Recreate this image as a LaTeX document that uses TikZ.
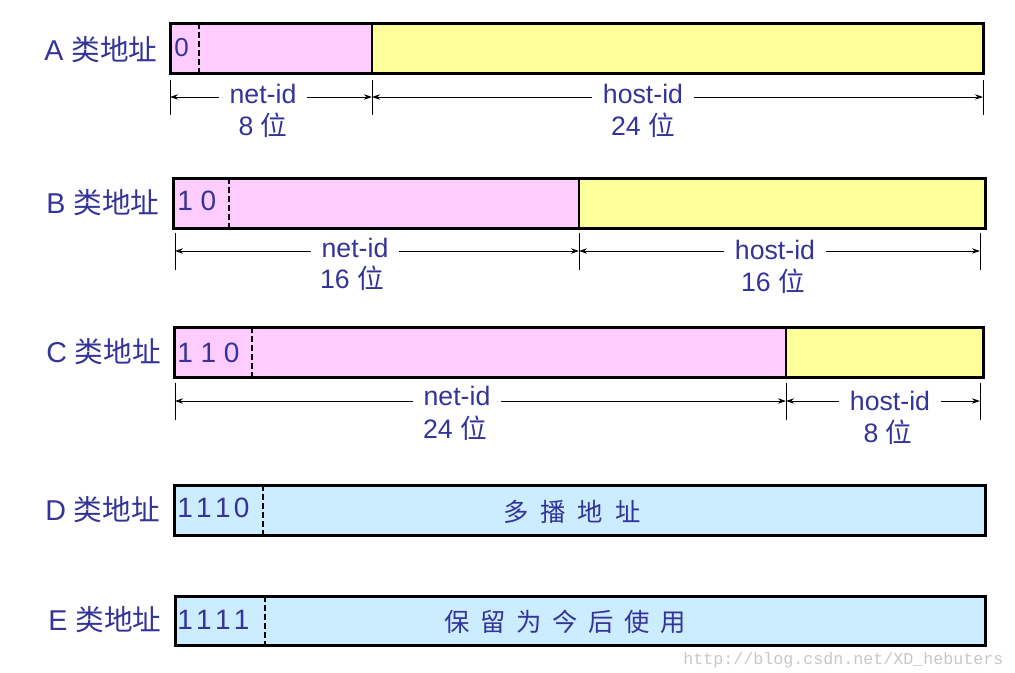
\documentclass[tikz,border=0pt]{standalone}
\usepackage{fontspec}
\setmainfont{Liberation Sans}
\newfontfamily\cjk{Noto Sans CJK SC}
\newfontfamily\wmfont{Liberation Mono}
\usetikzlibrary{arrows.meta}
\definecolor{txt}{HTML}{333399}
\definecolor{netpink}{HTML}{FFCCFF}
\definecolor{hostyellow}{HTML}{FFFF99}
\definecolor{multiblue}{HTML}{CCECFF}
\newcommand\cnwei{{\cjk 位}}
\begin{document}
\begin{tikzpicture}[x=0.75pt,y=-0.75pt,
  field/.style={draw=black, line width=2.25pt},
  divider/.style={draw=black, line width=1.6pt},
  bitsep/.style={draw=black, line width=1.7pt, dash pattern=on 4.5pt off 2.3pt},
  tickline/.style={draw=black, line width=0.7pt},
  dimarrow/.style={draw=black, line width=0.7pt, -{Stealth[length=6pt,width=4pt]}},
  dimtext/.style={text=txt, font=\fontsize{20}{24}\selectfont, inner xsep=8pt, inner ysep=0pt},
  rowlabel/.style={text=txt, font=\fontsize{21.5}{26}\selectfont, inner sep=0pt, anchor=base west},
  bits/.style={text=txt, font=\fontsize{21}{25}\selectfont, inner sep=0pt, anchor=base west},
  cntext/.style={text=txt, font=\cjk\fontsize{19}{23}\selectfont, inner sep=0pt, anchor=base},
  wm/.style={text=black!22, font=\wmfont\fontsize{12.5}{14}\selectfont, inner sep=0pt, anchor=base west}
]
\useasboundingbox (0,0) rectangle (1015,672);

% ---------- Row A ----------
\node[rowlabel] (labA) at (44,60) {A\kern6pt{\cjk 类地址}};
\fill[netpink] (170,23) rectangle (372,73);
\fill[hostyellow] (372,23) rectangle (983,73);
\draw[divider] (372,23) -- (372,73);
\draw[bitsep] (199,23) -- (199,73);
\draw[field] (170,23) rectangle (983,73);
\node[bits, font=\fontsize{19.5}{22}\selectfont] (bitsA) at (174,56) {0};
\coordinate (A0) at (170,97);
\coordinate (A1) at (372,97);
\coordinate (A2) at (983,97);
\draw[tickline] (170,80) -- (170,115);
\draw[tickline] (372,80) -- (372,115);
\draw[tickline] (983,80) -- (983,115);
\node[dimtext, anchor=base] (netA) at (263,103) {net-id};
\node[dimtext, anchor=base] (netAb) at (263,135) {8 \cnwei};
\node[dimtext, anchor=base] (hostA) at (643,103) {host-id};
\node[dimtext, anchor=base] (hostAb) at (643,135) {24 \cnwei};
\draw[dimarrow] (netA.west |- A0) -- (A0);
\draw[dimarrow] (netA.east |- A0) -- (A1);
\draw[dimarrow] (hostA.west |- A0) -- (A1);
\draw[dimarrow] (hostA.east |- A0) -- (A2);

% ---------- Row B ----------
\node[rowlabel] (labB) at (46,213) {B\kern6pt{\cjk 类地址}};
\fill[netpink] (173,178) rectangle (579,228);
\fill[hostyellow] (579,178) rectangle (985,228);
\draw[divider] (579,178) -- (579,228);
\draw[bitsep] (229,178) -- (229,228);
\draw[field] (173,178) rectangle (985,228);
\node[bits] (bitsB) at (177,210) {1 0};
\coordinate (B0) at (175,251);
\coordinate (B1) at (579,251);
\coordinate (B2) at (980,251);
\draw[tickline] (175,233) -- (175,270);
\draw[tickline] (579,233) -- (579,270);
\draw[tickline] (980,233) -- (980,270);
\node[dimtext, anchor=base] (netB) at (355,257) {net-id};
\node[dimtext, anchor=base] (netBb) at (352,288) {16 \cnwei};
\node[dimtext, anchor=base] (hostB) at (775,259) {host-id};
\node[dimtext, anchor=base] (hostBb) at (773,291) {16 \cnwei};
\draw[dimarrow] (netB.west |- B0) -- (B0);
\draw[dimarrow] (netB.east |- B0) -- (B1);
\draw[dimarrow] (hostB.west |- B0) -- (B1);
\draw[dimarrow] (hostB.east |- B0) -- (B2);

% ---------- Row C ----------
\node[rowlabel] (labC) at (46,362) {C\kern6pt{\cjk 类地址}};
\fill[netpink] (174,327) rectangle (786,377);
\fill[hostyellow] (786,327) rectangle (983,377);
\draw[divider] (786,327) -- (786,377);
\draw[bitsep] (252,327) -- (252,377);
\draw[field] (174,327) rectangle (983,377);
\node[bits] (bitsC) at (177,362) {1 1 0};
\coordinate (C0) at (175,401);
\coordinate (C1) at (786,401);
\coordinate (C2) at (980,401);
\draw[tickline] (175,383) -- (175,420);
\draw[tickline] (786,383) -- (786,420);
\draw[tickline] (980,383) -- (980,420);
\node[dimtext, anchor=base] (netC) at (457,405) {net-id};
\node[dimtext, anchor=base] (netCb) at (455,438) {24 \cnwei};
\node[dimtext, anchor=base] (hostC) at (890,410) {host-id};
\node[dimtext, anchor=base] (hostCb) at (888,442) {8 \cnwei};
\draw[dimarrow] (netC.west |- C0) -- (C0);
\draw[dimarrow] (netC.east |- C0) -- (C1);
\draw[dimarrow] (hostC.west |- C0) -- (C1);
\draw[dimarrow] (hostC.east |- C0) -- (C2);

% ---------- Row D ----------
\node[rowlabel] (labD) at (45,520) {D\kern6pt{\cjk 类地址}};
\fill[multiblue] (174,485) rectangle (985,535);
\draw[bitsep] (263,485) -- (263,535);
\draw[field] (174,485) rectangle (985,535);
\node[bits] (bitsD) at (177,517) {1\kern2.5pt1\kern2.5pt1\kern2.5pt0};
\node[cntext] (textD) at (572,521) {多\kern9pt播\kern9pt地\kern9pt址};

% ---------- Row E ----------
\node[rowlabel] (labE) at (48,630) {E\kern6pt{\cjk 类地址}};
\fill[multiblue] (175,596) rectangle (985,645);
\draw[bitsep] (265,596) -- (265,645);
\draw[field] (175,596) rectangle (985,645);
\node[bits] (bitsE) at (177,629) {1\kern2.5pt1\kern2.5pt1\kern2.5pt1};
\node[cntext] (textE) at (565,631) {保\kern8pt留\kern8pt为\kern8pt今\kern8pt后\kern8pt使\kern8pt用};

% watermark
\node[wm] (mark) at (683,664) {http://blog.csdn.net/XD\_hebuters};
\end{tikzpicture}
\end{document}
